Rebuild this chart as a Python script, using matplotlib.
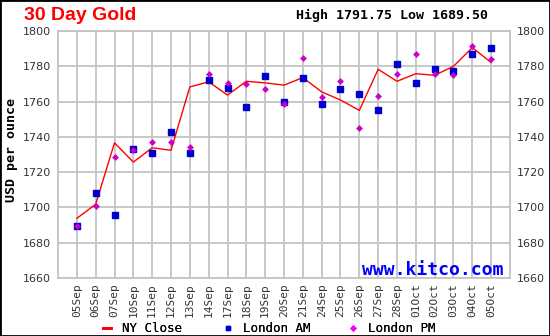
import matplotlib
matplotlib.use("Agg")
import matplotlib.pyplot as plt
from matplotlib.patches import Rectangle

dates = ["05Sep", "06Sep", "07Sep", "10Sep", "11Sep", "12Sep", "13Sep", "14Sep",
         "17Sep", "18Sep", "19Sep", "20Sep", "21Sep", "24Sep", "25Sep", "26Sep",
         "27Sep", "28Sep", "01Oct", "02Oct", "03Oct", "04Oct", "05Oct"]
ny_close = [1693.8, 1701.8, 1736.6, 1725.7, 1733.8, 1732.4, 1768.3, 1771.2,
            1763.7, 1771.5, 1770.6, 1769.3, 1773.6, 1765.5, 1760.9, 1755.0,
            1778.3, 1771.5, 1775.8, 1774.9, 1780.0, 1790.6, 1782.1]
london_am = [1689.5, 1708.1, 1695.7, 1733.1, 1730.9, 1742.5, 1730.9, 1772.1,
             1767.5, 1757.2, 1774.4, 1760.0, 1773.6, 1758.5, 1767.0, 1764.2,
             1755.2, 1781.2, 1770.4, 1778.6, 1777.3, 1786.7, 1790.3]
london_pm = [1689.5, 1700.6, 1728.5, 1732.4, 1737.3, 1737.3, 1734.1, 1775.9,
             1770.3, 1769.8, 1767.0, 1758.7, 1784.9, 1762.8, 1771.8, 1745.1,
             1763.4, 1775.9, 1786.9, 1775.6, 1775.0, 1791.5, 1784.1]
y_ticks = [1660, 1680, 1700, 1720, 1740, 1760, 1780, 1800]
title = "30 Day Gold"
hilo = "High 1791.75 Low 1689.50"

W, H = 550, 336
fig = plt.figure(figsize=(W / 100, H / 100), dpi=100)
fig.patch.set_facecolor("white")
fig.add_artist(Rectangle((0, 0), 1, 1, transform=fig.transFigure, fill=False,
                         edgecolor="black", linewidth=2.0))

ax = fig.add_axes([58 / W, 1 - 278 / H, (510 - 58) / W, (278 - 31) / H])
x = list(range(len(dates)))

grid_c = "#c4c4c4"
ax.set_xlim(-1, len(dates))
ax.set_ylim(1660, 1800)
ax.set_xticks(x)
ax.set_xticklabels(dates, rotation=90, family="DejaVu Sans Mono", fontsize=8,
                   color="#333333")
ax.set_yticks(y_ticks)
ax.set_yticklabels([str(v) for v in y_ticks], family="DejaVu Sans", fontsize=8,
                   color="#333333")
ax.tick_params(axis="x", length=0, pad=4)
ax.tick_params(axis="y", length=0, pad=5, labelright=True, right=False)
for lab in ax.get_yticklabels(which="both"):
    pass
ax.yaxis.set_tick_params(which="major", pad=5)
ax.grid(True, color=grid_c, linewidth=1.3)
ax.set_axisbelow(True)
for s in ax.spines.values():
    s.set_color(grid_c)
    s.set_linewidth(1.3)

ln, = ax.plot(x, ny_close, color="#ff0000", linewidth=1.0, zorder=3,
              label="NY Close")
am, = ax.plot(x, london_am, linestyle="none", marker="s", markersize=4.5,
              color="#0000cc", zorder=4, label="London AM")
pm, = ax.plot(x, london_pm, linestyle="none", marker="D", markersize=3.5,
              color="#cc00cc", markeredgewidth=0, zorder=5, label="London PM")

fig.text(503 / W, 1 - 275 / H, "www.kitco.com", ha="right", va="baseline",
         family="DejaVu Sans Mono", fontweight="bold", fontsize=13,
         color="#0000ff", zorder=6)

fig.text(12 / W, 1 - 150 / H, "USD per ounce", rotation=90, ha="center",
         va="center", family="DejaVu Sans Mono", fontweight="bold", fontsize=9.5)

fig.text(24 / W, 1 - 19.5 / H, title, color="#ff0000", fontsize=14,
         fontweight="bold", family="Liberation Sans", ha="left", va="baseline")
fig.text(488 / W, 1 - 18.5 / H, hilo, color="black", fontsize=9.5,
         fontweight="bold", family="DejaVu Sans Mono", ha="right", va="baseline")

# legend items, each anchored at its left edge (pixels)
from matplotlib.lines import Line2D
leg_items = [
    (Line2D([], [], color="#ff0000", linewidth=2.0), "NY Close", 103),
    (Line2D([], [], linestyle="none", marker="s", markersize=3.5,
            color="#0000cc"), "London AM", 224),
    (Line2D([], [], linestyle="none", marker="D", markersize=3.5,
            color="#ff00ff", markeredgewidth=0), "London PM", 349),
]
for h, lab, px in leg_items:
    lg = fig.legend(handles=[h], labels=[lab], loc="center left",
                    bbox_to_anchor=(px / W, 1 - 329 / H), frameon=False,
                    prop={"family": "DejaVu Sans Mono", "size": 9},
                    handlelength=0.65, handletextpad=0.9, borderpad=0,
                    borderaxespad=0)
    fig.add_artist(lg)

fig.savefig("out.png", dpi=100)
